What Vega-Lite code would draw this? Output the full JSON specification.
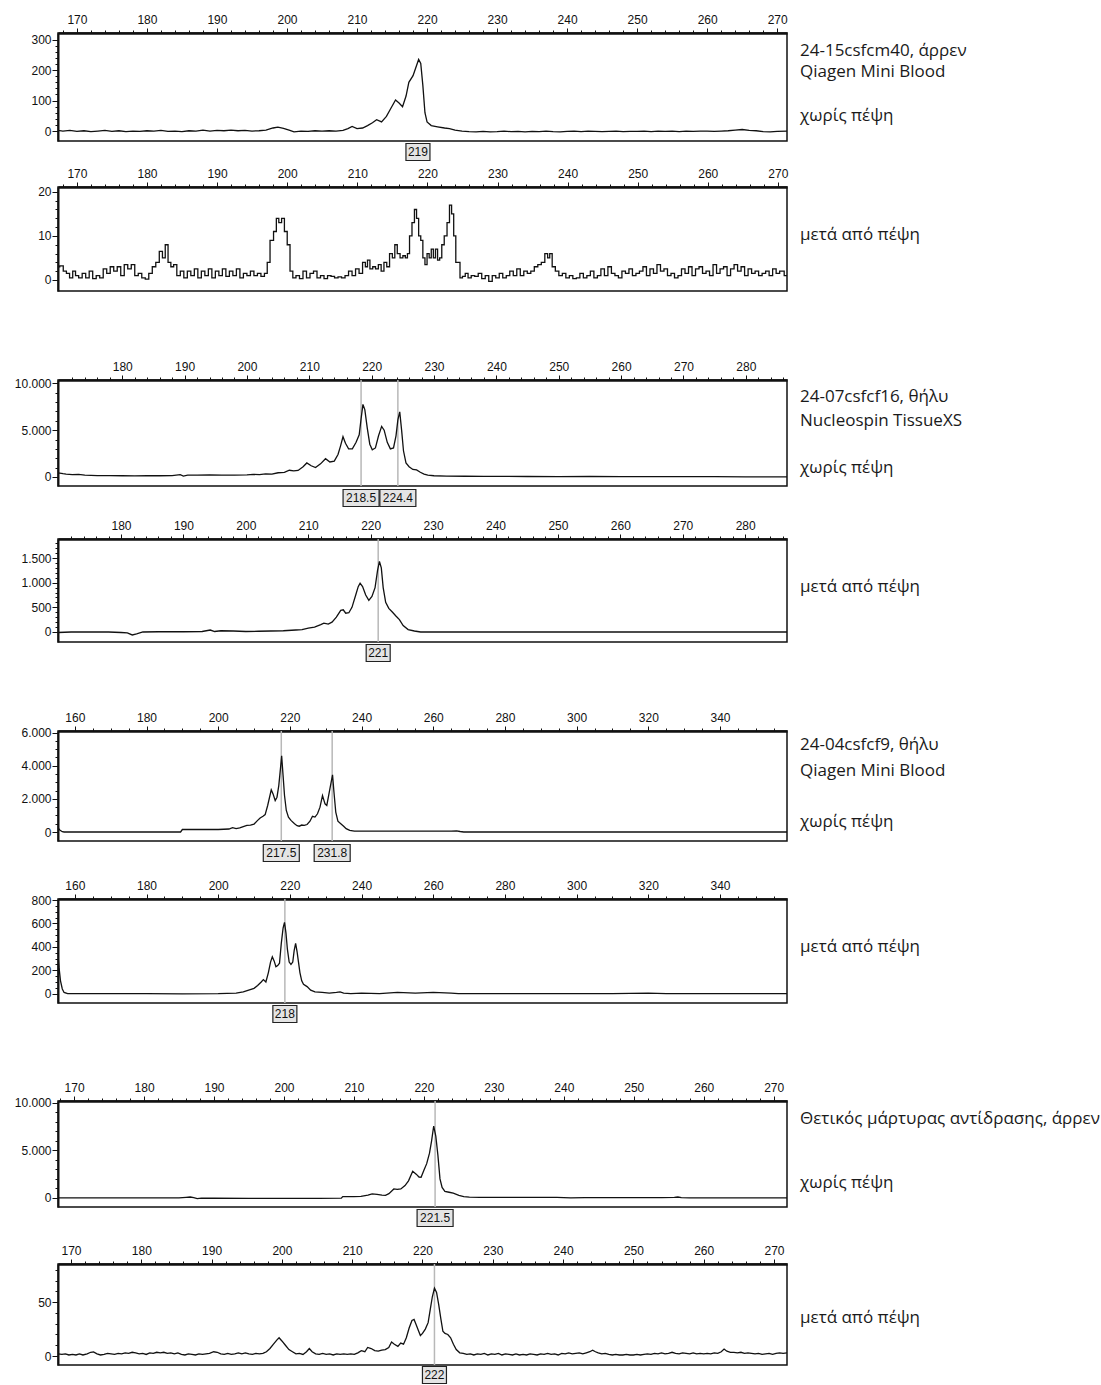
{
"$schema": "https://vega.github.io/schema/vega-lite/v6.json",
"background": "white",
"padding": {"left": 13, "top": 12, "right": 0, "bottom": 0},
"config": {
 "view": {"stroke": "#111", "strokeWidth": 1.5},
 "axis": {"labelFont": "Liberation Sans", "labelFontSize": 12, "labelColor": "#111", "tickColor": "#111", "domainColor": "#111", "grid": false, "title": null, "labelOverlap": false, "labelFlush": false},
 "axisX": {"minExtent": 20, "maxExtent": 20},
 "axisY": {"minExtent": 43, "maxExtent": 43}
},
"datasets": {
 "p1": [{"x":167.3,"y":2},{"x":168,"y":0},{"x":169,"y":2},{"x":170,"y":-1},{"x":171,"y":1},{"x":172,"y":-2},{"x":173,"y":0},{"x":174,"y":2},{"x":175,"y":-1},{"x":176,"y":1},{"x":177,"y":-2},{"x":178,"y":0},{"x":179,"y":-1},{"x":180,"y":1},{"x":181,"y":0},{"x":182,"y":2},{"x":183,"y":-1},{"x":184,"y":0},{"x":185,"y":-2},{"x":186,"y":1},{"x":187,"y":0},{"x":188,"y":3},{"x":189,"y":0},{"x":190,"y":2},{"x":191,"y":1},{"x":192,"y":3},{"x":193,"y":1},{"x":194,"y":2},{"x":195,"y":0},{"x":196,"y":1},{"x":197,"y":3},{"x":198,"y":10},{"x":198.7,"y":13},{"x":199.5,"y":9},{"x":200.3,"y":3},{"x":201,"y":-3},{"x":202,"y":0},{"x":203,"y":-1},{"x":204,"y":1},{"x":205,"y":0},{"x":206,"y":1},{"x":207,"y":0},{"x":208,"y":2},{"x":208.7,"y":8},{"x":209.3,"y":15},{"x":210,"y":8},{"x":210.8,"y":10},{"x":211.5,"y":18},{"x":212.2,"y":27},{"x":212.8,"y":37},{"x":213.5,"y":30},{"x":214.2,"y":48},{"x":214.8,"y":73},{"x":215.5,"y":102},{"x":216,"y":92},{"x":216.5,"y":80},{"x":217,"y":115},{"x":217.4,"y":160},{"x":218,"y":182},{"x":218.5,"y":215},{"x":218.8,"y":235},{"x":219.1,"y":222},{"x":219.4,"y":150},{"x":219.7,"y":60},{"x":220,"y":30},{"x":220.6,"y":18},{"x":221.5,"y":14},{"x":222.5,"y":10},{"x":223.2,"y":8},{"x":224,"y":3},{"x":225,"y":0},{"x":226,"y":-2},{"x":227,"y":-3},{"x":228,"y":-1},{"x":229,"y":-3},{"x":230,"y":-2},{"x":231,"y":0},{"x":232,"y":-2},{"x":233,"y":-1},{"x":234,"y":-3},{"x":235,"y":-1},{"x":236,"y":-2},{"x":237,"y":0},{"x":238,"y":-2},{"x":239,"y":-3},{"x":240,"y":-1},{"x":241,"y":0},{"x":242,"y":-2},{"x":243,"y":0},{"x":244,"y":-1},{"x":245,"y":-2},{"x":246,"y":-1},{"x":247,"y":0},{"x":248,"y":-2},{"x":249,"y":-1},{"x":250,"y":-1},{"x":251,"y":0},{"x":252,"y":-2},{"x":253,"y":0},{"x":254,"y":-1},{"x":255,"y":0},{"x":256,"y":-2},{"x":257,"y":0},{"x":258,"y":-1},{"x":259,"y":0},{"x":260,"y":0},{"x":261,"y":-1},{"x":262,"y":0},{"x":263,"y":1},{"x":264,"y":3},{"x":265,"y":5},{"x":266,"y":2},{"x":267,"y":1},{"x":268,"y":-2},{"x":269,"y":-3},{"x":270,"y":-1},{"x":271.4,"y":0}],
 "p2": [{"x":167.3,"y":3},{"x":167.8,"y":3.2},{"x":168.3,"y":2},{"x":168.7,"y":1.5},{"x":169.2,"y":0.5},{"x":169.6,"y":2},{"x":170,"y":1},{"x":170.5,"y":0.5},{"x":171,"y":1.5},{"x":171.5,"y":0.5},{"x":172,"y":2},{"x":172.5,"y":0.3},{"x":173,"y":1},{"x":173.5,"y":0.5},{"x":174,"y":2.5},{"x":174.5,"y":1.5},{"x":175,"y":3},{"x":175.5,"y":2},{"x":176,"y":3},{"x":176.5,"y":1},{"x":177,"y":3.5},{"x":177.5,"y":2.5},{"x":178,"y":3.5},{"x":178.5,"y":1},{"x":179,"y":1.5},{"x":179.5,"y":0.5},{"x":180,"y":0.2},{"x":180.5,"y":1.5},{"x":181,"y":3},{"x":181.5,"y":4},{"x":182,"y":6.5},{"x":182.4,"y":5},{"x":182.8,"y":8},{"x":183.2,"y":4},{"x":183.6,"y":3},{"x":184,"y":3.5},{"x":184.5,"y":1},{"x":185,"y":2},{"x":185.5,"y":0.5},{"x":186,"y":2},{"x":186.5,"y":1},{"x":187,"y":2.5},{"x":187.5,"y":0.5},{"x":188,"y":2},{"x":188.5,"y":1},{"x":189,"y":2.5},{"x":189.5,"y":0.5},{"x":190,"y":2},{"x":190.5,"y":1},{"x":191,"y":2.5},{"x":191.5,"y":0.8},{"x":192,"y":2},{"x":192.5,"y":1},{"x":193,"y":2.5},{"x":193.5,"y":0.5},{"x":194,"y":1.5},{"x":194.5,"y":1},{"x":195,"y":2},{"x":195.5,"y":1},{"x":196,"y":1.5},{"x":196.5,"y":0.8},{"x":197,"y":1.5},{"x":197.3,"y":4},{"x":197.8,"y":9},{"x":198.3,"y":11},{"x":198.6,"y":14},{"x":199,"y":13},{"x":199.4,"y":14},{"x":199.8,"y":11},{"x":200.2,"y":8},{"x":200.6,"y":2},{"x":201,"y":0.5},{"x":201.5,"y":1},{"x":202,"y":0.3},{"x":202.5,"y":2},{"x":203,"y":0.5},{"x":203.5,"y":1.5},{"x":204,"y":2},{"x":204.5,"y":0.5},{"x":205,"y":1},{"x":205.5,"y":0.3},{"x":206,"y":1},{"x":206.5,"y":0.8},{"x":207,"y":0.5},{"x":207.5,"y":0.7},{"x":208,"y":0.5},{"x":208.5,"y":1},{"x":209,"y":2},{"x":209.5,"y":1},{"x":210,"y":2.5},{"x":210.5,"y":1.5},{"x":211,"y":4},{"x":211.3,"y":3},{"x":211.6,"y":4.5},{"x":212,"y":2.5},{"x":212.4,"y":3},{"x":212.8,"y":2.5},{"x":213.2,"y":3.5},{"x":213.6,"y":2},{"x":214,"y":4},{"x":214.4,"y":3},{"x":214.8,"y":6},{"x":215.2,"y":5},{"x":215.5,"y":8},{"x":215.9,"y":6},{"x":216.3,"y":5},{"x":216.7,"y":5.5},{"x":217,"y":5},{"x":217.3,"y":6},{"x":217.6,"y":10},{"x":218,"y":13},{"x":218.3,"y":16},{"x":218.6,"y":14},{"x":218.9,"y":10},{"x":219.2,"y":9},{"x":219.5,"y":5},{"x":219.8,"y":3.5},{"x":220.1,"y":6},{"x":220.4,"y":5},{"x":220.7,"y":7},{"x":221,"y":5},{"x":221.3,"y":7},{"x":221.6,"y":4.5},{"x":221.9,"y":5},{"x":222.2,"y":8},{"x":222.6,"y":10},{"x":223,"y":13},{"x":223.3,"y":17},{"x":223.6,"y":15},{"x":223.9,"y":10},{"x":224.2,"y":4},{"x":224.5,"y":4},{"x":224.8,"y":0.5},{"x":225.2,"y":0.8},{"x":225.6,"y":1.5},{"x":226,"y":0.5},{"x":226.5,"y":1},{"x":227,"y":0.8},{"x":227.5,"y":1.5},{"x":228,"y":0.3},{"x":228.5,"y":1},{"x":229,"y":-0.3},{"x":229.5,"y":1},{"x":230,"y":0.5},{"x":230.5,"y":1.5},{"x":231,"y":0.5},{"x":231.5,"y":1},{"x":232,"y":2},{"x":232.5,"y":1},{"x":233,"y":2.5},{"x":233.5,"y":1},{"x":234,"y":2},{"x":234.5,"y":1.5},{"x":235,"y":2},{"x":235.5,"y":3},{"x":236,"y":3.5},{"x":236.5,"y":4},{"x":237,"y":6},{"x":237.3,"y":5},{"x":237.6,"y":6},{"x":238,"y":3},{"x":238.5,"y":2},{"x":239,"y":1},{"x":239.5,"y":1.5},{"x":240,"y":0.5},{"x":240.5,"y":1},{"x":241,"y":0.3},{"x":241.5,"y":0.5},{"x":242,"y":1.5},{"x":242.5,"y":0.5},{"x":243,"y":1},{"x":243.5,"y":2},{"x":244,"y":0.5},{"x":244.5,"y":1},{"x":245,"y":2.5},{"x":245.5,"y":1},{"x":246,"y":3},{"x":246.5,"y":1.5},{"x":247,"y":1},{"x":247.5,"y":0.5},{"x":248,"y":2},{"x":248.5,"y":1.5},{"x":249,"y":2.5},{"x":249.5,"y":1},{"x":250,"y":1.5},{"x":250.5,"y":2},{"x":251,"y":3},{"x":251.5,"y":1},{"x":252,"y":2.5},{"x":252.5,"y":1.5},{"x":253,"y":3.5},{"x":253.5,"y":2},{"x":254,"y":2.5},{"x":254.5,"y":1},{"x":255,"y":1.5},{"x":255.5,"y":0.5},{"x":256,"y":1},{"x":256.5,"y":2.5},{"x":257,"y":1.5},{"x":257.5,"y":3},{"x":258,"y":1},{"x":258.5,"y":2.5},{"x":259,"y":3},{"x":259.5,"y":1.5},{"x":260,"y":2},{"x":260.5,"y":1},{"x":261,"y":3.5},{"x":261.5,"y":1.5},{"x":262,"y":2.5},{"x":262.5,"y":3},{"x":263,"y":1},{"x":263.5,"y":2.5},{"x":264,"y":3.5},{"x":264.5,"y":2},{"x":265,"y":3},{"x":265.5,"y":1},{"x":266,"y":2.5},{"x":266.5,"y":1.5},{"x":267,"y":2},{"x":267.5,"y":1},{"x":268,"y":1.5},{"x":268.5,"y":2},{"x":269,"y":1},{"x":269.5,"y":2.5},{"x":270,"y":1.5},{"x":270.5,"y":2},{"x":271.3,"y":1}],
 "p3": [{"x":169.7,"y":450},{"x":170.5,"y":350},{"x":171,"y":300},{"x":172,"y":260},{"x":173,"y":280},{"x":174,"y":200},{"x":175,"y":180},{"x":176,"y":150},{"x":178,"y":140},{"x":180,"y":130},{"x":182,"y":120},{"x":184,"y":130},{"x":186,"y":130},{"x":188,"y":140},{"x":189.3,"y":250},{"x":189.8,"y":100},{"x":190.5,"y":200},{"x":192,"y":200},{"x":194,"y":210},{"x":196,"y":200},{"x":198,"y":200},{"x":200,"y":220},{"x":201,"y":280},{"x":202,"y":250},{"x":203,"y":330},{"x":204,"y":300},{"x":205,"y":450},{"x":206,"y":500},{"x":206.8,"y":720},{"x":207.5,"y":650},{"x":208.2,"y":700},{"x":209,"y":1100},{"x":209.6,"y":1500},{"x":210.3,"y":1200},{"x":211,"y":1000},{"x":211.8,"y":1400},{"x":212.6,"y":1950},{"x":213.3,"y":1600},{"x":214,"y":1700},{"x":214.6,"y":2400},{"x":215,"y":3300},{"x":215.4,"y":4300},{"x":215.8,"y":3600},{"x":216.3,"y":3000},{"x":216.9,"y":3000},{"x":217.5,"y":3700},{"x":218,"y":4500},{"x":218.3,"y":6200},{"x":218.6,"y":7750},{"x":218.9,"y":7200},{"x":219.3,"y":5200},{"x":219.7,"y":3500},{"x":220.1,"y":2900},{"x":220.6,"y":3100},{"x":221.1,"y":4400},{"x":221.6,"y":5400},{"x":222,"y":5000},{"x":222.5,"y":3700},{"x":223,"y":3000},{"x":223.5,"y":3100},{"x":223.9,"y":4400},{"x":224.2,"y":6100},{"x":224.5,"y":6950},{"x":224.8,"y":5000},{"x":225.1,"y":2800},{"x":225.5,"y":1500},{"x":226,"y":1100},{"x":226.6,"y":800},{"x":227.2,"y":750},{"x":227.8,"y":500},{"x":228.4,"y":300},{"x":229,"y":200},{"x":230,"y":130},{"x":232,"y":100},{"x":235,"y":80},{"x":238,"y":60},{"x":240,"y":60},{"x":245,"y":50},{"x":250,"y":40},{"x":255,"y":50},{"x":260,"y":40},{"x":265,"y":40},{"x":270,"y":30},{"x":275,"y":30},{"x":280,"y":20},{"x":286.6,"y":20}],
 "p4": [{"x":169.9,"y":-10},{"x":172,"y":0},{"x":175,"y":0},{"x":178,"y":0},{"x":180,"y":-10},{"x":181,"y":-20},{"x":181.8,"y":-60},{"x":182.5,"y":-40},{"x":183.5,"y":0},{"x":186,"y":5},{"x":190,"y":5},{"x":193,"y":10},{"x":194.3,"y":40},{"x":195,"y":10},{"x":196,"y":25},{"x":198,"y":20},{"x":200,"y":10},{"x":202,"y":15},{"x":204,"y":20},{"x":206,"y":25},{"x":208,"y":40},{"x":209,"y":50},{"x":210,"y":80},{"x":211,"y":100},{"x":212,"y":150},{"x":212.5,"y":180},{"x":213.2,"y":160},{"x":213.8,"y":200},{"x":214.5,"y":300},{"x":215.2,"y":440},{"x":215.6,"y":450},{"x":216,"y":380},{"x":216.5,"y":390},{"x":217,"y":500},{"x":217.6,"y":750},{"x":218,"y":920},{"x":218.3,"y":990},{"x":218.7,"y":920},{"x":219.2,"y":750},{"x":219.7,"y":640},{"x":220.2,"y":720},{"x":220.7,"y":900},{"x":221.1,"y":1250},{"x":221.4,"y":1430},{"x":221.7,"y":1300},{"x":222,"y":900},{"x":222.4,"y":600},{"x":222.9,"y":480},{"x":223.5,"y":400},{"x":224,"y":330},{"x":224.6,"y":250},{"x":225.2,"y":130},{"x":226,"y":50},{"x":227,"y":20},{"x":228,"y":0},{"x":230,"y":0},{"x":235,"y":0},{"x":240,"y":0},{"x":250,"y":0},{"x":260,"y":0},{"x":270,"y":0},{"x":280,"y":0},{"x":286.7,"y":0}],
 "p5": [{"x":155.3,"y":250},{"x":155.8,"y":120},{"x":156.5,"y":20},{"x":157,"y":0},{"x":160,"y":0},{"x":170,"y":0},{"x":180,"y":0},{"x":189.5,"y":0},{"x":190,"y":150},{"x":195,"y":150},{"x":200,"y":150},{"x":203,"y":180},{"x":204,"y":260},{"x":205,"y":200},{"x":206,"y":250},{"x":207,"y":330},{"x":208,"y":400},{"x":209,"y":420},{"x":210,"y":480},{"x":211,"y":700},{"x":211.7,"y":850},{"x":212.5,"y":950},{"x":213.1,"y":1050},{"x":213.8,"y":1600},{"x":214.8,"y":2550},{"x":215.3,"y":2300},{"x":215.9,"y":1900},{"x":216.4,"y":2100},{"x":216.9,"y":2800},{"x":217.4,"y":3900},{"x":217.7,"y":4600},{"x":218.1,"y":3400},{"x":218.5,"y":2200},{"x":219,"y":1300},{"x":219.6,"y":900},{"x":220.3,"y":700},{"x":221.3,"y":500},{"x":222,"y":380},{"x":222.6,"y":350},{"x":223.3,"y":420},{"x":224,"y":400},{"x":224.8,"y":450},{"x":225.6,"y":650},{"x":226.3,"y":950},{"x":227,"y":900},{"x":227.7,"y":1100},{"x":228.4,"y":1500},{"x":229.1,"y":2200},{"x":229.8,"y":1700},{"x":230.3,"y":1600},{"x":230.9,"y":2300},{"x":231.5,"y":3000},{"x":231.9,"y":3450},{"x":232.3,"y":2400},{"x":232.8,"y":1200},{"x":233.4,"y":650},{"x":234.2,"y":500},{"x":235,"y":350},{"x":235.7,"y":200},{"x":236.7,"y":100},{"x":238,"y":50},{"x":245,"y":50},{"x":250,"y":50},{"x":255,"y":50},{"x":260,"y":50},{"x":265,"y":50},{"x":266.5,"y":70},{"x":267.5,"y":30},{"x":268.5,"y":0},{"x":280,"y":0},{"x":300,"y":0},{"x":320,"y":0},{"x":340,"y":0},{"x":358.7,"y":0}],
 "p6": [{"x":155.3,"y":330},{"x":155.6,"y":220},{"x":156,"y":110},{"x":156.5,"y":40},{"x":157,"y":10},{"x":158,"y":0},{"x":170,"y":0},{"x":180,"y":0},{"x":190,"y":-2},{"x":200,"y":0},{"x":205,"y":5},{"x":207,"y":15},{"x":208.5,"y":30},{"x":210,"y":45},{"x":211,"y":70},{"x":212,"y":100},{"x":212.6,"y":120},{"x":213.3,"y":100},{"x":214,"y":180},{"x":214.6,"y":270},{"x":215.1,"y":315},{"x":215.6,"y":280},{"x":216.1,"y":230},{"x":216.6,"y":240},{"x":217.1,"y":260},{"x":217.6,"y":430},{"x":218.1,"y":560},{"x":218.5,"y":610},{"x":218.9,"y":520},{"x":219.3,"y":380},{"x":219.8,"y":270},{"x":220.3,"y":250},{"x":220.8,"y":270},{"x":221.2,"y":370},{"x":221.6,"y":430},{"x":222,"y":360},{"x":222.4,"y":270},{"x":222.8,"y":180},{"x":223.3,"y":110},{"x":223.8,"y":80},{"x":224.8,"y":60},{"x":225.8,"y":30},{"x":227,"y":15},{"x":229,"y":10},{"x":231,"y":5},{"x":233,"y":10},{"x":234,"y":15},{"x":235,"y":5},{"x":237,"y":0},{"x":240,"y":5},{"x":245,"y":0},{"x":250,"y":10},{"x":255,"y":5},{"x":260,"y":10},{"x":265,"y":5},{"x":267,"y":0},{"x":290,"y":0},{"x":310,"y":0},{"x":320,"y":5},{"x":325,"y":0},{"x":340,"y":0},{"x":358.7,"y":0}],
 "p7": [{"x":167.7,"y":0},{"x":175,"y":0},{"x":185,"y":0},{"x":186,"y":60},{"x":186.6,"y":100},{"x":187.1,"y":40},{"x":187.6,"y":-60},{"x":188.2,"y":-20},{"x":190,"y":-30},{"x":195,"y":-40},{"x":200,"y":-50},{"x":205,"y":-40},{"x":208.2,"y":-20},{"x":208.4,"y":140},{"x":210,"y":150},{"x":211,"y":170},{"x":212,"y":300},{"x":212.6,"y":420},{"x":213.3,"y":380},{"x":214,"y":300},{"x":214.5,"y":280},{"x":215,"y":450},{"x":215.7,"y":950},{"x":216.2,"y":900},{"x":216.7,"y":950},{"x":217.3,"y":1300},{"x":217.8,"y":1800},{"x":218.4,"y":2800},{"x":218.9,"y":2500},{"x":219.3,"y":2200},{"x":219.6,"y":2180},{"x":220,"y":2900},{"x":220.4,"y":3600},{"x":220.8,"y":4700},{"x":221.1,"y":6000},{"x":221.4,"y":7550},{"x":221.7,"y":6500},{"x":222,"y":4500},{"x":222.3,"y":2000},{"x":222.6,"y":1100},{"x":223,"y":700},{"x":223.6,"y":600},{"x":224.2,"y":500},{"x":225,"y":280},{"x":225.7,"y":150},{"x":226.5,"y":80},{"x":228,"y":60},{"x":233,"y":60},{"x":239,"y":70},{"x":241,"y":20},{"x":243,"y":40},{"x":246,"y":30},{"x":250,"y":40},{"x":254,"y":30},{"x":255.8,"y":60},{"x":256.3,"y":100},{"x":256.8,"y":40},{"x":258,"y":0},{"x":265,"y":0},{"x":271.9,"y":0}],
 "p8": [{"x":168.15,"y":2},{"x":168.7,"y":1.5},{"x":169.2,"y":2},{"x":169.7,"y":1},{"x":170.2,"y":1.5},{"x":170.7,"y":1},{"x":171.2,"y":2},{"x":171.7,"y":1},{"x":172.3,"y":2},{"x":172.8,"y":3.5},{"x":173.2,"y":3.8},{"x":173.7,"y":2},{"x":174.2,"y":1},{"x":174.7,"y":1.5},{"x":175.2,"y":2.5},{"x":175.7,"y":2},{"x":176.2,"y":1.5},{"x":176.7,"y":2.5},{"x":177.2,"y":2},{"x":177.7,"y":3},{"x":178.2,"y":2.5},{"x":178.7,"y":3.5},{"x":179.2,"y":3},{"x":179.7,"y":2},{"x":180.2,"y":2.5},{"x":180.7,"y":1.5},{"x":181.2,"y":3},{"x":181.7,"y":2.5},{"x":182.2,"y":3.5},{"x":182.7,"y":3},{"x":183.2,"y":3.5},{"x":183.7,"y":2.5},{"x":184.2,"y":3},{"x":184.7,"y":2},{"x":185.2,"y":3},{"x":185.7,"y":1.5},{"x":186.2,"y":1},{"x":186.7,"y":2},{"x":187.2,"y":1.5},{"x":187.7,"y":1},{"x":188.2,"y":2},{"x":188.7,"y":1.5},{"x":189.2,"y":2},{"x":189.7,"y":2.5},{"x":190.3,"y":4},{"x":190.8,"y":3.5},{"x":191.3,"y":2},{"x":191.8,"y":1.5},{"x":192.3,"y":2.5},{"x":192.8,"y":1.5},{"x":193.3,"y":2},{"x":193.8,"y":3},{"x":194.3,"y":2},{"x":194.8,"y":3},{"x":195.3,"y":2},{"x":195.8,"y":1.5},{"x":196.3,"y":2.5},{"x":196.8,"y":2},{"x":197.3,"y":2.5},{"x":197.8,"y":4},{"x":198.3,"y":7},{"x":198.8,"y":11},{"x":199.3,"y":15},{"x":199.6,"y":17},{"x":200,"y":14},{"x":200.5,"y":10},{"x":201,"y":6},{"x":201.5,"y":4},{"x":202,"y":2},{"x":202.5,"y":2.5},{"x":203,"y":1.5},{"x":203.5,"y":4},{"x":203.9,"y":7},{"x":204.3,"y":4},{"x":204.8,"y":2},{"x":205.3,"y":1.5},{"x":205.8,"y":2.5},{"x":206.3,"y":1.5},{"x":206.8,"y":2},{"x":207.3,"y":1},{"x":207.8,"y":2},{"x":208.3,"y":1.5},{"x":208.8,"y":2},{"x":209.3,"y":1.5},{"x":209.8,"y":2},{"x":210.3,"y":1.5},{"x":210.8,"y":3},{"x":211.3,"y":5},{"x":211.8,"y":4},{"x":212.2,"y":8},{"x":212.7,"y":7},{"x":213.2,"y":5},{"x":213.7,"y":4.5},{"x":214.2,"y":5.5},{"x":214.7,"y":6},{"x":215.2,"y":8},{"x":215.6,"y":13},{"x":216,"y":11},{"x":216.5,"y":9},{"x":216.9,"y":12},{"x":217.3,"y":11},{"x":217.7,"y":17},{"x":218.1,"y":26},{"x":218.5,"y":33},{"x":218.8,"y":34},{"x":219.1,"y":29},{"x":219.4,"y":24},{"x":219.7,"y":19},{"x":220,"y":21},{"x":220.4,"y":25},{"x":220.8,"y":31},{"x":221.1,"y":43},{"x":221.4,"y":55},{"x":221.7,"y":63},{"x":222,"y":59},{"x":222.3,"y":48},{"x":222.6,"y":35},{"x":222.9,"y":23},{"x":223.2,"y":21},{"x":223.6,"y":20},{"x":224,"y":17},{"x":224.4,"y":11},{"x":224.8,"y":6},{"x":225.3,"y":3},{"x":225.8,"y":2.5},{"x":226.3,"y":1.5},{"x":226.8,"y":2},{"x":227.3,"y":1},{"x":227.8,"y":2},{"x":228.3,"y":1.5},{"x":228.8,"y":2.5},{"x":229.3,"y":1},{"x":229.8,"y":2},{"x":230.3,"y":1.5},{"x":230.8,"y":2.5},{"x":231.3,"y":1},{"x":231.8,"y":2},{"x":232.3,"y":1.5},{"x":232.8,"y":1},{"x":233.3,"y":2},{"x":233.8,"y":1},{"x":234.3,"y":1.5},{"x":234.8,"y":1},{"x":235.3,"y":2},{"x":235.8,"y":1.5},{"x":236.3,"y":1},{"x":236.8,"y":2},{"x":237.3,"y":1.5},{"x":237.8,"y":2.5},{"x":238.3,"y":1.5},{"x":238.8,"y":2},{"x":239.3,"y":1},{"x":239.8,"y":2.5},{"x":240.3,"y":2},{"x":240.8,"y":3},{"x":241.3,"y":2},{"x":241.8,"y":2.5},{"x":242.3,"y":3},{"x":242.8,"y":2},{"x":243.3,"y":3},{"x":243.8,"y":4},{"x":244.2,"y":5.5},{"x":244.6,"y":4},{"x":245,"y":3},{"x":245.5,"y":2},{"x":246,"y":2.5},{"x":246.5,"y":1.5},{"x":247,"y":1},{"x":247.5,"y":1.5},{"x":248,"y":1},{"x":248.5,"y":1},{"x":249,"y":1.5},{"x":249.5,"y":1},{"x":250,"y":1},{"x":250.5,"y":1.5},{"x":251,"y":1},{"x":251.5,"y":1.5},{"x":252,"y":2},{"x":252.5,"y":1.5},{"x":253,"y":2.5},{"x":253.5,"y":2},{"x":254,"y":3},{"x":254.5,"y":2},{"x":255,"y":2.5},{"x":255.5,"y":3.5},{"x":256,"y":2.5},{"x":256.5,"y":2},{"x":257,"y":3},{"x":257.5,"y":2.5},{"x":258,"y":2},{"x":258.5,"y":3},{"x":259,"y":2},{"x":259.5,"y":2.5},{"x":260,"y":2},{"x":260.5,"y":2.5},{"x":261,"y":2},{"x":261.5,"y":3},{"x":262,"y":2.5},{"x":262.5,"y":4},{"x":262.9,"y":6.5},{"x":263.3,"y":4.5},{"x":263.8,"y":3.5},{"x":264.3,"y":3.5},{"x":264.8,"y":3},{"x":265.3,"y":3.5},{"x":265.8,"y":2.5},{"x":266.3,"y":3},{"x":266.8,"y":2.5},{"x":267.3,"y":2},{"x":267.8,"y":2.5},{"x":268.3,"y":1.5},{"x":268.8,"y":2},{"x":269.3,"y":2.5},{"x":269.8,"y":1.5},{"x":270.3,"y":2.5},{"x":270.8,"y":3},{"x":271.3,"y":2.5},{"x":271.85,"y":3}],
 "l1": [{"x":218.7,"label":"219"}],
 "l3": [{"x":218.3,"label":"218.5"},{"x":224.2,"label":"224.4"}],
 "l4": [{"x":221.2,"label":"221"}],
 "l5": [{"x":217.6,"label":"217.5"},{"x":231.8,"label":"231.8"}],
 "l6": [{"x":218.6,"label":"218"}],
 "l7": [{"x":221.6,"label":"221.5"}],
 "l8": [{"x":221.7,"label":"222"}],
 "t1": [{"line":1,"text":"24-15csfcm40, άρρεν"},{"line":2,"text":"Qiagen Mini Blood"},{"line":4,"text":"χωρίς πέψη"}],
 "t2": [{"line":1,"text":"μετά από πέψη"}],
 "t3": [{"line":1,"text":"24-07csfcf16, θήλυ"},{"line":2,"text":"Nucleospin TissueXS"},{"line":4,"text":"χωρίς πέψη"}],
 "t5": [{"line":1,"text":"24-04csfcf9, θήλυ"},{"line":2,"text":"Qiagen Mini Blood"},{"line":4,"text":"χωρίς πέψη"}],
 "t7": [{"line":1,"text":"Θετικός μάρτυρας αντίδρασης, άρρεν"},{"line":4,"text":"χωρίς πέψη"}]
},
"spacing": 67,
"vconcat": [
 {"spacing": 2, "vconcat": [
  {"spacing": 13, "bounds": "flush", "hconcat": [
   {"width": 729, "height": 108,
    "encoding": {"x": {"field": "x", "type": "quantitative", "scale": {"domain": [167.3, 271.4], "nice": false, "zero": false},
      "axis": {"orient": "top", "values": [168,170,172,174,176,178,180,182,184,186,188,190,192,194,196,198,200,202,204,206,208,210,212,214,216,218,220,222,224,226,228,230,232,234,236,238,240,242,244,246,248,250,252,254,256,258,260,262,264,266,268,270], "labelExpr": "datum.value % 10 === 0 ? datum.label : ''", "tickSize": {"condition": {"test": "datum.value % 10 === 0", "value": 5}, "value": 3}, "labelPadding": 2, "domainWidth": 2.5}}},
    "layer": [
     {"data": {"name": "p1"}, "mark": {"type": "line", "color": "#111", "strokeWidth": 1.3, "clip": true},
      "encoding": {"y": {"field": "y", "type": "quantitative", "scale": {"domain": [-32.7, 321.9], "nice": false, "zero": false},
        "axis": {"orient": "left", "values": [0,20,40,60,80,100,120,140,160,180,200,220,240,260,280,300], "labelExpr": "datum.value % 100 === 0 ? replace(format(datum.value, ','), ',', '.') : ''", "tickSize": {"condition": {"test": "datum.value % 100 === 0", "value": 6}, "value": 3}, "labelPadding": 1, "domainWidth": 2}}}},
     {"data": {"name": "l1"}, "mark": {"type": "point", "filled": true, "fill": "#e4e4e4", "stroke": "#222", "strokeWidth": 1.2, "opacity": 1, "y": "height", "yOffset": 11},
      "encoding": {"shape": {"condition": {"test": "length(datum.label) > 3", "value": "M-1,-0.4722H1V0.4722H-1Z"}, "value": "M-1,-0.7083H1V0.7083H-1Z"}, "size": {"condition": {"test": "length(datum.label) > 3", "value": 1296}, "value": 576}}},
     {"data": {"name": "l1"}, "mark": {"type": "text", "y": "height", "yOffset": 11, "baseline": "middle", "align": "center", "font": "Liberation Sans", "fontSize": 12, "color": "#111"},
      "encoding": {"text": {"field": "label"}}}
    ]},
   {"width": 290, "height": 108, "view": {"stroke": null}, "data": {"name": "t1"},
    "mark": {"type": "text", "align": "left", "baseline": "middle", "font": "Open Sans", "fontSize": 17, "color": "#1a1a1a"},
    "encoding": {"x": {"datum": 0, "type": "quantitative", "scale": {"domain": [0, 1]}, "axis": null},
      "y": {"field": "line", "type": "ordinal", "scale": {"type": "point", "domain": [1,2,3,4], "padding": 0.99, "align": 0.41}, "axis": null},
      "text": {"field": "text"}}}
  ]},
  {"spacing": 13, "bounds": "flush", "hconcat": [
   {"width": 729, "height": 104,
    "encoding": {"x": {"field": "x", "type": "quantitative", "scale": {"domain": [167.3, 271.3], "nice": false, "zero": false},
      "axis": {"orient": "top", "values": [168,170,172,174,176,178,180,182,184,186,188,190,192,194,196,198,200,202,204,206,208,210,212,214,216,218,220,222,224,226,228,230,232,234,236,238,240,242,244,246,248,250,252,254,256,258,260,262,264,266,268,270], "labelExpr": "datum.value % 10 === 0 ? datum.label : ''", "tickSize": {"condition": {"test": "datum.value % 10 === 0", "value": 5}, "value": 3}, "labelPadding": 2, "domainWidth": 2.5}}},
    "layer": [
     {"data": {"name": "p2"}, "mark": {"type": "line", "color": "#111", "strokeWidth": 1.3, "clip": true, "interpolate": "step"},
      "encoding": {"y": {"field": "y", "type": "quantitative", "scale": {"domain": [-2.5, 21.1], "nice": false, "zero": false},
        "axis": {"orient": "left", "values": [0,2,4,6,8,10,12,14,16,18,20], "labelExpr": "datum.value % 10 === 0 ? datum.label : ''", "tickSize": {"condition": {"test": "datum.value % 10 === 0", "value": 6}, "value": 3}, "labelPadding": 1, "domainWidth": 2}}}}
    ]},
   {"width": 290, "height": 104, "view": {"stroke": null}, "data": {"name": "t2"},
    "mark": {"type": "text", "align": "left", "baseline": "middle", "font": "Open Sans", "fontSize": 17, "color": "#1a1a1a"},
    "encoding": {"x": {"datum": 0, "type": "quantitative", "scale": {"domain": [0, 1]}, "axis": null},
      "y": {"field": "line", "type": "ordinal", "scale": {"type": "point", "align": 0.464}, "axis": null},
      "text": {"field": "text"}}}
  ]}
 ]},
 {"spacing": 45, "vconcat": [
  {"spacing": 8, "vconcat": [
   {"spacing": 13, "bounds": "flush", "hconcat": [
    {"width": 729, "height": 106,
     "encoding": {"x": {"field": "x", "type": "quantitative", "scale": {"domain": [169.7, 286.6], "nice": false, "zero": false},
       "axis": {"orient": "top", "values": [172,174,176,178,180,182,184,186,188,190,192,194,196,198,200,202,204,206,208,210,212,214,216,218,220,222,224,226,228,230,232,234,236,238,240,242,244,246,248,250,252,254,256,258,260,262,264,266,268,270,272,274,276,278,280,282,284,286], "labelExpr": "datum.value % 10 === 0 ? datum.label : ''", "tickSize": {"condition": {"test": "datum.value % 10 === 0", "value": 5}, "value": 3}, "labelPadding": 2, "domainWidth": 2.5}}},
     "layer": [
      {"data": {"name": "l3"}, "mark": {"type": "rule", "color": "#b8b8b8", "strokeWidth": 1.5}, "encoding": {}},
      {"data": {"name": "p3"}, "mark": {"type": "line", "color": "#111", "strokeWidth": 1.3, "clip": true},
       "encoding": {"y": {"field": "y", "type": "quantitative", "scale": {"domain": [-963, 10357], "nice": false, "zero": false},
         "axis": {"orient": "left", "values": [0,1000,2000,3000,4000,5000,6000,7000,8000,9000,10000], "labelExpr": "datum.value % 5000 === 0 ? replace(format(datum.value, ','), ',', '.') : ''", "tickSize": {"condition": {"test": "datum.value % 5000 === 0", "value": 6}, "value": 3}, "labelPadding": 1, "domainWidth": 2}}}},
      {"data": {"name": "l3"}, "mark": {"type": "point", "filled": true, "fill": "#e4e4e4", "stroke": "#222", "strokeWidth": 1.2, "opacity": 1, "y": "height", "yOffset": 12},
       "encoding": {"shape": {"condition": {"test": "length(datum.label) > 3", "value": "M-1,-0.4722H1V0.4722H-1Z"}, "value": "M-1,-0.7083H1V0.7083H-1Z"}, "size": {"condition": {"test": "length(datum.label) > 3", "value": 1296}, "value": 576}}},
      {"data": {"name": "l3"}, "mark": {"type": "text", "y": "height", "yOffset": 12, "baseline": "middle", "align": "center", "font": "Liberation Sans", "fontSize": 12, "color": "#111"},
       "encoding": {"text": {"field": "label"}}}
     ]},
    {"width": 290, "height": 106, "view": {"stroke": null}, "data": {"name": "t3"},
     "mark": {"type": "text", "align": "left", "baseline": "middle", "font": "Open Sans", "fontSize": 17, "color": "#1a1a1a"},
     "encoding": {"x": {"datum": 0, "type": "quantitative", "scale": {"domain": [0, 1]}, "axis": null},
       "y": {"field": "line", "type": "ordinal", "scale": {"type": "point", "domain": [1,2,3,4], "padding": 0.72, "align": 0.485}, "axis": null},
       "text": {"field": "text"}}}
   ]},
   {"spacing": 13, "bounds": "flush", "hconcat": [
    {"width": 729, "height": 103,
     "encoding": {"x": {"field": "x", "type": "quantitative", "scale": {"domain": [169.9, 286.7], "nice": false, "zero": false},
       "axis": {"orient": "top", "values": [172,174,176,178,180,182,184,186,188,190,192,194,196,198,200,202,204,206,208,210,212,214,216,218,220,222,224,226,228,230,232,234,236,238,240,242,244,246,248,250,252,254,256,258,260,262,264,266,268,270,272,274,276,278,280,282,284,286], "labelExpr": "datum.value % 10 === 0 ? datum.label : ''", "tickSize": {"condition": {"test": "datum.value % 10 === 0", "value": 5}, "value": 3}, "labelPadding": 2, "domainWidth": 2.5}}},
     "layer": [
      {"data": {"name": "l4"}, "mark": {"type": "rule", "color": "#b8b8b8", "strokeWidth": 1.5}, "encoding": {}},
      {"data": {"name": "p4"}, "mark": {"type": "line", "color": "#111", "strokeWidth": 1.3, "clip": true},
       "encoding": {"y": {"field": "y", "type": "quantitative", "scale": {"domain": [-203, 1886], "nice": false, "zero": false},
         "axis": {"orient": "left", "values": [0,100,200,300,400,500,600,700,800,900,1000,1100,1200,1300,1400,1500,1600,1700,1800], "labelExpr": "datum.value % 500 === 0 ? replace(format(datum.value, ','), ',', '.') : ''", "tickSize": {"condition": {"test": "datum.value % 500 === 0", "value": 6}, "value": 3}, "labelPadding": 1, "domainWidth": 2}}}},
      {"data": {"name": "l4"}, "mark": {"type": "point", "filled": true, "fill": "#e4e4e4", "stroke": "#222", "strokeWidth": 1.2, "opacity": 1, "y": "height", "yOffset": 11},
       "encoding": {"shape": {"condition": {"test": "length(datum.label) > 3", "value": "M-1,-0.4722H1V0.4722H-1Z"}, "value": "M-1,-0.7083H1V0.7083H-1Z"}, "size": {"condition": {"test": "length(datum.label) > 3", "value": 1296}, "value": 576}}},
      {"data": {"name": "l4"}, "mark": {"type": "text", "y": "height", "yOffset": 11, "baseline": "middle", "align": "center", "font": "Liberation Sans", "fontSize": 12, "color": "#111"},
       "encoding": {"text": {"field": "label"}}}
     ]},
    {"width": 290, "height": 103, "view": {"stroke": null}, "data": {"name": "t2"},
     "mark": {"type": "text", "align": "left", "baseline": "middle", "font": "Open Sans", "fontSize": 17, "color": "#1a1a1a"},
     "encoding": {"x": {"datum": 0, "type": "quantitative", "scale": {"domain": [0, 1]}, "axis": null},
       "y": {"field": "line", "type": "ordinal", "scale": {"type": "point", "align": 0.463}, "axis": null},
       "text": {"field": "text"}}}
   ]}
  ]},
  {"spacing": 54, "vconcat": [
   {"spacing": 13, "vconcat": [
    {"spacing": 13, "bounds": "flush", "hconcat": [
     {"width": 729, "height": 110,
      "encoding": {"x": {"field": "x", "type": "quantitative", "scale": {"domain": [155.3, 358.7], "nice": false, "zero": false},
        "axis": {"orient": "top", "values": [160,165,170,175,180,185,190,195,200,205,210,215,220,225,230,235,240,245,250,255,260,265,270,275,280,285,290,295,300,305,310,315,320,325,330,335,340,345,350,355], "labelExpr": "datum.value % 20 === 0 ? datum.label : ''", "tickSize": {"condition": {"test": "datum.value % 20 === 0", "value": 5}, "value": 3}, "labelPadding": 2, "domainWidth": 2.5}}},
      "layer": [
       {"data": {"name": "l5"}, "mark": {"type": "rule", "color": "#b8b8b8", "strokeWidth": 1.5}, "encoding": {}},
       {"data": {"name": "p5"}, "mark": {"type": "line", "color": "#111", "strokeWidth": 1.3, "clip": true},
        "encoding": {"y": {"field": "y", "type": "quantitative", "scale": {"domain": [-543, 6095], "nice": false, "zero": false},
          "axis": {"orient": "left", "values": [0,500,1000,1500,2000,2500,3000,3500,4000,4500,5000,5500,6000], "labelExpr": "datum.value % 2000 === 0 ? replace(format(datum.value, ','), ',', '.') : ''", "tickSize": {"condition": {"test": "datum.value % 2000 === 0", "value": 6}, "value": 3}, "labelPadding": 1, "domainWidth": 2}}}},
       {"data": {"name": "l5"}, "mark": {"type": "point", "filled": true, "fill": "#e4e4e4", "stroke": "#222", "strokeWidth": 1.2, "opacity": 1, "y": "height", "yOffset": 12},
        "encoding": {"shape": {"condition": {"test": "length(datum.label) > 3", "value": "M-1,-0.4722H1V0.4722H-1Z"}, "value": "M-1,-0.7083H1V0.7083H-1Z"}, "size": {"condition": {"test": "length(datum.label) > 3", "value": 1296}, "value": 576}}},
       {"data": {"name": "l5"}, "mark": {"type": "text", "y": "height", "yOffset": 12, "baseline": "middle", "align": "center", "font": "Liberation Sans", "fontSize": 12, "color": "#111"},
        "encoding": {"text": {"field": "label"}}}
      ]},
     {"width": 290, "height": 110, "view": {"stroke": null}, "data": {"name": "t5"},
      "mark": {"type": "text", "align": "left", "baseline": "middle", "font": "Open Sans", "fontSize": 17, "color": "#1a1a1a"},
      "encoding": {"x": {"datum": 0, "type": "quantitative", "scale": {"domain": [0, 1]}, "axis": null},
        "y": {"field": "line", "type": "ordinal", "scale": {"type": "point", "domain": [1,2,3,4], "padding": 0.64, "align": 0.43}, "axis": null},
        "text": {"field": "text"}}}
    ]},
    {"spacing": 13, "bounds": "flush", "hconcat": [
     {"width": 729, "height": 104,
      "encoding": {"x": {"field": "x", "type": "quantitative", "scale": {"domain": [155.3, 358.7], "nice": false, "zero": false},
        "axis": {"orient": "top", "values": [160,165,170,175,180,185,190,195,200,205,210,215,220,225,230,235,240,245,250,255,260,265,270,275,280,285,290,295,300,305,310,315,320,325,330,335,340,345,350,355], "labelExpr": "datum.value % 20 === 0 ? datum.label : ''", "tickSize": {"condition": {"test": "datum.value % 20 === 0", "value": 5}, "value": 3}, "labelPadding": 2, "domainWidth": 2.5}}},
      "layer": [
       {"data": {"name": "l6"}, "mark": {"type": "rule", "color": "#b8b8b8", "strokeWidth": 1.5}, "encoding": {}},
       {"data": {"name": "p6"}, "mark": {"type": "line", "color": "#111", "strokeWidth": 1.3, "clip": true},
        "encoding": {"y": {"field": "y", "type": "quantitative", "scale": {"domain": [-80, 809], "nice": false, "zero": false},
          "axis": {"orient": "left", "values": [0,50,100,150,200,250,300,350,400,450,500,550,600,650,700,750,800], "labelExpr": "datum.value % 200 === 0 ? datum.label : ''", "tickSize": {"condition": {"test": "datum.value % 200 === 0", "value": 6}, "value": 3}, "labelPadding": 1, "domainWidth": 2}}}},
       {"data": {"name": "l6"}, "mark": {"type": "point", "filled": true, "fill": "#e4e4e4", "stroke": "#222", "strokeWidth": 1.2, "opacity": 1, "y": "height", "yOffset": 11},
        "encoding": {"shape": {"condition": {"test": "length(datum.label) > 3", "value": "M-1,-0.4722H1V0.4722H-1Z"}, "value": "M-1,-0.7083H1V0.7083H-1Z"}, "size": {"condition": {"test": "length(datum.label) > 3", "value": 1296}, "value": 576}}},
       {"data": {"name": "l6"}, "mark": {"type": "text", "y": "height", "yOffset": 11, "baseline": "middle", "align": "center", "font": "Liberation Sans", "fontSize": 12, "color": "#111"},
        "encoding": {"text": {"field": "label"}}}
      ]},
     {"width": 290, "height": 104, "view": {"stroke": null}, "data": {"name": "t2"},
      "mark": {"type": "text", "align": "left", "baseline": "middle", "font": "Open Sans", "fontSize": 17, "color": "#1a1a1a"},
      "encoding": {"x": {"datum": 0, "type": "quantitative", "scale": {"domain": [0, 1]}, "axis": null},
        "y": {"field": "line", "type": "ordinal", "scale": {"type": "point", "align": 0.46}, "axis": null},
        "text": {"field": "text"}}}
    ]}
   ]},
   {"spacing": 13, "vconcat": [
    {"spacing": 13, "bounds": "flush", "hconcat": [
     {"width": 729, "height": 106,
      "encoding": {"x": {"field": "x", "type": "quantitative", "scale": {"domain": [167.7, 271.9], "nice": false, "zero": false},
        "axis": {"orient": "top", "values": [168,170,172,174,176,178,180,182,184,186,188,190,192,194,196,198,200,202,204,206,208,210,212,214,216,218,220,222,224,226,228,230,232,234,236,238,240,242,244,246,248,250,252,254,256,258,260,262,264,266,268,270], "labelExpr": "datum.value % 10 === 0 ? datum.label : ''", "tickSize": {"condition": {"test": "datum.value % 10 === 0", "value": 5}, "value": 3}, "labelPadding": 2, "domainWidth": 2.5}}},
      "layer": [
       {"data": {"name": "l7"}, "mark": {"type": "rule", "color": "#b8b8b8", "strokeWidth": 1.5}, "encoding": {}},
       {"data": {"name": "p7"}, "mark": {"type": "line", "color": "#111", "strokeWidth": 1.3, "clip": true},
        "encoding": {"y": {"field": "y", "type": "quantitative", "scale": {"domain": [-947, 10175], "nice": false, "zero": false},
          "axis": {"orient": "left", "values": [0,1000,2000,3000,4000,5000,6000,7000,8000,9000,10000], "labelExpr": "datum.value % 5000 === 0 ? replace(format(datum.value, ','), ',', '.') : ''", "tickSize": {"condition": {"test": "datum.value % 5000 === 0", "value": 6}, "value": 3}, "labelPadding": 1, "domainWidth": 2}}}},
       {"data": {"name": "l7"}, "mark": {"type": "point", "filled": true, "fill": "#e4e4e4", "stroke": "#222", "strokeWidth": 1.2, "opacity": 1, "y": "height", "yOffset": 11},
        "encoding": {"shape": {"condition": {"test": "length(datum.label) > 3", "value": "M-1,-0.4722H1V0.4722H-1Z"}, "value": "M-1,-0.7083H1V0.7083H-1Z"}, "size": {"condition": {"test": "length(datum.label) > 3", "value": 1296}, "value": 576}}},
       {"data": {"name": "l7"}, "mark": {"type": "text", "y": "height", "yOffset": 11, "baseline": "middle", "align": "center", "font": "Liberation Sans", "fontSize": 12, "color": "#111"},
        "encoding": {"text": {"field": "label"}}}
      ]},
     {"width": 290, "height": 106, "view": {"stroke": null}, "data": {"name": "t7"},
      "mark": {"type": "text", "align": "left", "baseline": "middle", "font": "Open Sans", "fontSize": 17, "color": "#1a1a1a"},
      "encoding": {"x": {"datum": 0, "type": "quantitative", "scale": {"domain": [0, 1]}, "axis": null},
        "y": {"field": "line", "type": "ordinal", "scale": {"type": "point", "domain": [1,2,3,4], "padding": 1.01, "align": 0.43}, "axis": null},
        "text": {"field": "text"}}}
    ]},
    {"spacing": 13, "bounds": "flush", "hconcat": [
     {"width": 729, "height": 101,
      "encoding": {"x": {"field": "x", "type": "quantitative", "scale": {"domain": [168.15, 271.85], "nice": false, "zero": false},
        "axis": {"orient": "top", "values": [170,172,174,176,178,180,182,184,186,188,190,192,194,196,198,200,202,204,206,208,210,212,214,216,218,220,222,224,226,228,230,232,234,236,238,240,242,244,246,248,250,252,254,256,258,260,262,264,266,268,270], "labelExpr": "datum.value % 10 === 0 ? datum.label : ''", "tickSize": {"condition": {"test": "datum.value % 10 === 0", "value": 5}, "value": 3}, "labelPadding": 2, "domainWidth": 2.5}}},
      "layer": [
       {"data": {"name": "l8"}, "mark": {"type": "rule", "color": "#b8b8b8", "strokeWidth": 1.5}, "encoding": {}},
       {"data": {"name": "p8"}, "mark": {"type": "line", "color": "#111", "strokeWidth": 1.3, "clip": true},
        "encoding": {"y": {"field": "y", "type": "quantitative", "scale": {"domain": [-8.3, 85.4], "nice": false, "zero": false},
          "axis": {"orient": "left", "values": [0,10,20,30,40,50,60,70,80], "labelExpr": "datum.value % 50 === 0 ? datum.label : ''", "tickSize": {"condition": {"test": "datum.value % 50 === 0", "value": 6}, "value": 3}, "labelPadding": 1, "domainWidth": 2}}}},
       {"data": {"name": "l8"}, "mark": {"type": "point", "filled": true, "fill": "#e4e4e4", "stroke": "#222", "strokeWidth": 1.2, "opacity": 1, "y": "height", "yOffset": 10},
        "encoding": {"shape": {"condition": {"test": "length(datum.label) > 3", "value": "M-1,-0.4722H1V0.4722H-1Z"}, "value": "M-1,-0.7083H1V0.7083H-1Z"}, "size": {"condition": {"test": "length(datum.label) > 3", "value": 1296}, "value": 576}}},
       {"data": {"name": "l8"}, "mark": {"type": "text", "y": "height", "yOffset": 10, "baseline": "middle", "align": "center", "font": "Liberation Sans", "fontSize": 12, "color": "#111"},
        "encoding": {"text": {"field": "label"}}}
      ]},
     {"width": 290, "height": 101, "view": {"stroke": null}, "data": {"name": "t2"},
      "mark": {"type": "text", "align": "left", "baseline": "middle", "font": "Open Sans", "fontSize": 17, "color": "#1a1a1a"},
      "encoding": {"x": {"datum": 0, "type": "quantitative", "scale": {"domain": [0, 1]}, "axis": null},
        "y": {"field": "line", "type": "ordinal", "scale": {"type": "point", "align": 0.535}, "axis": null},
        "text": {"field": "text"}}}
    ]}
   ]}
  ]}
 ]}
]
}
